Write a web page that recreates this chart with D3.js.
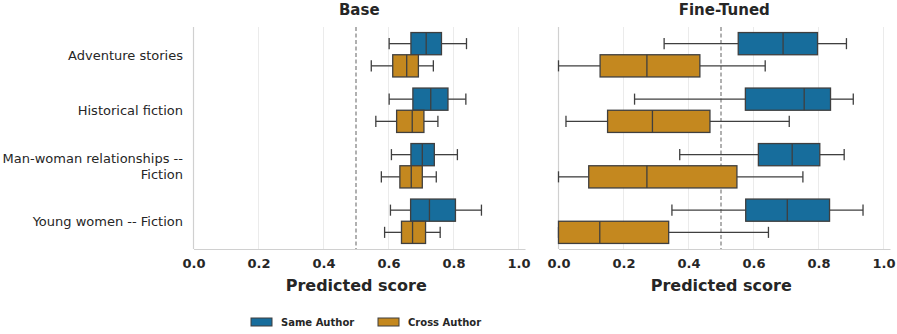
<!DOCTYPE html>
<html>
<head>
<meta charset="utf-8">
<script src="https://d3js.org/d3.v7.min.js"></script>
<style>
  body { margin: 0; background: #fff; }
  text { font-family: "DejaVu Sans", sans-serif; fill: #262626; }
</style>
</head>
<body>
<svg width="897" height="334"></svg>
<script>
// categories (top to bottom) and hue groups
const categories = ["Adventure stories", "Historical fiction", "Man-woman relationships --\nFiction", "Young women -- Fiction"];
const hues = ["Same Author", "Cross Author"];
const colors = ["#176d9c", "#c4881f"];
const panels = ["Base", "Fine-Tuned"];
const xTicks = [0, 0.2, 0.4, 0.6, 0.8, 1.0];

// box stats per category: [whiskerLow, q1, median, q3, whiskerHigh]
const baseSame = [
  [0.602, 0.669, 0.716, 0.763, 0.840],
  [0.602, 0.675, 0.730, 0.783, 0.838],
  [0.609, 0.669, 0.704, 0.741, 0.812],
  [0.606, 0.668, 0.726, 0.806, 0.886]
];
const baseCross = [
  [0.547, 0.613, 0.656, 0.692, 0.738],
  [0.561, 0.625, 0.673, 0.709, 0.752],
  [0.578, 0.635, 0.670, 0.704, 0.747],
  [0.588, 0.640, 0.674, 0.714, 0.759]
];
const tunedSame = [
  [0.325, 0.553, 0.691, 0.797, 0.886],
  [0.234, 0.575, 0.756, 0.837, 0.907],
  [0.373, 0.615, 0.719, 0.804, 0.879],
  [0.349, 0.576, 0.704, 0.834, 0.937]
];
const tunedCross = [
  [0.000, 0.128, 0.272, 0.435, 0.636],
  [0.023, 0.151, 0.289, 0.466, 0.710],
  [0.000, 0.093, 0.272, 0.549, 0.752],
  [0.000, 0.000, 0.127, 0.339, 0.646]
];
const threshold = 0.5;

const svg = d3.select("svg");
const plotTop = 27, plotBottom = 249;
const panelLefts = [193.5, 558.5];
const panelWidth = 331.5;
const data = [[baseSame, baseCross], [tunedSame, tunedCross]];

const y = d3.scaleBand().domain(categories).range([plotTop, plotBottom]).paddingInner(0).paddingOuter(0);
const hueScale = d3.scaleBand().domain(hues).range([0, y.bandwidth() * 0.8]);
const edge = "#3f3f3f";

panels.forEach((title, p) => {
  const x = d3.scaleLinear().domain([0, 1.02]).range([panelLefts[p], panelLefts[p] + panelWidth]);
  const g = svg.append("g");

  // grid
  g.selectAll(".grid").data(xTicks.slice(1)).enter().append("line")
    .attr("x1", d => x(d)).attr("x2", d => x(d))
    .attr("y1", plotTop).attr("y2", plotBottom)
    .attr("stroke", "#ebebeb").attr("stroke-width", 1);

  // left spine
  g.append("line").attr("x1", x(0)).attr("x2", x(0)).attr("y1", plotTop).attr("y2", plotBottom)
    .attr("stroke", "#d0d0d0").attr("stroke-width", 1.2);

  // x axis
  const xAxis = d3.axisBottom(x).tickValues(xTicks).tickFormat(d3.format(".1f")).tickSize(0).tickPadding(10);
  const ax = g.append("g").attr("transform", "translate(0," + plotBottom + ")").call(xAxis);
  ax.select(".domain").attr("stroke", "#d0d0d0").attr("stroke-width", 1.2);
  ax.selectAll("text").style("font-size", "13px").style("font-weight", "bold")
    .style("font-family", "DejaVu Sans").attr("fill", "#262626");

  // threshold line
  g.append("line").attr("x1", x(threshold)).attr("x2", x(threshold))
    .attr("y1", plotTop).attr("y2", plotBottom)
    .attr("stroke", "#707070").attr("stroke-width", 1.1).attr("stroke-dasharray", "4,2.5");

  // boxes
  categories.forEach((cat, ci) => {
    hues.forEach((h, hi) => {
      const s = data[p][hi][ci];
      const y0 = y(cat) + y.bandwidth() * 0.1 + hueScale(h);
      const bh = hueScale.bandwidth();
      const yc = y0 + bh / 2;
      const bg = g.append("g");
      // whiskers
      bg.append("line").attr("x1", x(s[0])).attr("x2", x(s[1])).attr("y1", yc).attr("y2", yc)
        .attr("stroke", edge).attr("stroke-width", 1.3);
      bg.append("line").attr("x1", x(s[3])).attr("x2", x(s[4])).attr("y1", yc).attr("y2", yc)
        .attr("stroke", edge).attr("stroke-width", 1.3);
      // caps
      [s[0], s[4]].forEach(v => {
        bg.append("line").attr("x1", x(v)).attr("x2", x(v))
          .attr("y1", yc - bh / 4).attr("y2", yc + bh / 4)
          .attr("stroke", edge).attr("stroke-width", 1.3);
      });
      // box
      bg.append("rect").attr("x", x(s[1])).attr("y", y0)
        .attr("width", Math.max(0, x(s[3]) - x(s[1]))).attr("height", bh)
        .attr("fill", colors[hi]).attr("stroke", edge).attr("stroke-width", 1.3);
      // median
      bg.append("line").attr("x1", x(s[2])).attr("x2", x(s[2])).attr("y1", y0).attr("y2", y0 + bh)
        .attr("stroke", edge).attr("stroke-width", 1.3);
    });
  });

  // title
  g.append("text").attr("x", x(0) + panelWidth / 2).attr("y", 15)
    .attr("text-anchor", "middle").style("font-size", "15px").style("font-weight", "bold")
    .text(title);

  // x label
  g.append("text").attr("x", x(0) + panelWidth / 2 - 3).attr("y", 291)
    .attr("text-anchor", "middle").style("font-size", "16px").style("font-weight", "bold")
    .text("Predicted score");
});

// y tick labels (left panel only)
categories.forEach(cat => {
  const lines = cat.split("\n");
  const yc = y(cat) + y.bandwidth() / 2;
  const t = svg.append("text").attr("text-anchor", "end").style("font-size", "13px");
  lines.forEach((ln, i) => {
    t.append("tspan").attr("x", 183)
      .attr("y", yc + 5 + (i - (lines.length - 1) / 2) * 15.5)
      .text(ln);
  });
});

// legend
const legend = svg.append("g").attr("transform", "translate(251,318)");
const legendX = [0, 127];
hues.forEach((h, i) => {
  legend.append("rect").attr("x", legendX[i]).attr("y", 0).attr("width", 21).attr("height", 8)
    .attr("fill", colors[i]).attr("stroke", edge).attr("stroke-width", 1);
  legend.append("text").attr("x", legendX[i] + 30).attr("y", 8)
    .style("font-size", "10px").style("font-weight", "bold").text(h);
});
</script>
</body>
</html>
